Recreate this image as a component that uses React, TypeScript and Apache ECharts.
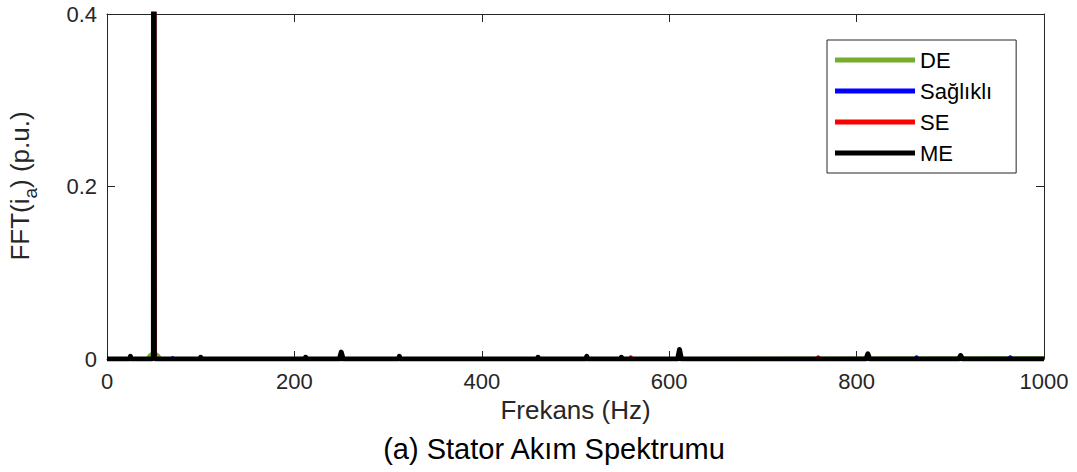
import React, { useEffect, useRef } from "react";
import * as echarts from "echarts";

const seriesNames = ["DE", "Sağlıklı", "SE", "ME"];
const seriesColors = ["#77AC30", "#0000FF", "#FF0000", "#000000"];

// [frequency (Hz), FFT magnitude (p.u.)]
const deData = [
  [0, 0], [24, 0], [25, 0.002], [26, 0], [43, 0], [45.5, 0.004], [48, 0.006], [49.6, 0.006],
  [50, 0.9], [50.4, 0.006], [52, 0.006], [54.5, 0.004], [57, 0], [99, 0], [100, 0.001],
  [101, 0], [248, 0], [250, 0.004], [252, 0], [609, 0], [611, 0.003], [613, 0], [1000, 0.001],
];
const healthyData = [
  [0, 0], [24, 0], [25, 0.001], [26, 0], [48, 0], [49.5, 0.002], [50, 0.9], [50.5, 0.002],
  [52, 0], [69, 0], [70, 0.001], [71, 0], [863, 0], [864, 0.002], [865, 0], [963, 0],
  [964, 0.002], [965, 0], [1000, 0],
];
const seData = [
  [0, 0], [48, 0], [49.5, 0.002], [50.3, 0.9], [51, 0.002], [52, 0], [210, 0], [212, 0.002],
  [214, 0], [248, 0], [250, 0.006], [252, 0], [558, 0], [559, 0.002], [560, 0], [609, 0],
  [611, 0.008], [613, 0], [758, 0], [759, 0.002], [760, 0], [1000, 0],
];
const meData = [
  [0, 0], [24, 0], [25, 0.003], [26, 0], [48, 0], [49.5, 0.002], [50, 0.9], [50.5, 0.002],
  [52, 0], [99, 0], [100, 0.002], [101, 0], [211, 0], [212, 0.002], [213, 0], [248, 0],
  [250, 0.008], [252, 0], [311, 0], [312, 0.003], [313, 0], [459, 0], [460, 0.002], [461, 0],
  [511, 0], [512, 0.003], [513, 0], [548, 0], [549, 0.002], [550, 0], [609, 0], [611, 0.011],
  [613, 0], [810, 0], [812, 0.006], [814, 0], [909, 0], [911, 0.004], [913, 0], [1000, 0],
];
const allData = [deData, healthyData, seData, meData];
const lineWidths = [4, 4, 4, 5];

const xTicks = { min: 0, max: 1000, interval: 200 };
const yTicks = { min: 0, max: 0.4, interval: 0.2 };

const yLabelParts = ["FFT(i", "a", ") (p.u.)"];
const xLabel = "Frekans (Hz)";
const titleText = "(a) Stator Akım Spektrumu";

const FONT = "'Liberation Sans', Arial, sans-serif";
const AX = "#262626";

function measure(text: string, size: number): number {
  const c = document.createElement("canvas");
  const ctx = c.getContext("2d");
  if (!ctx) return text.length * size * 0.55;
  ctx.font = `${size}px ${FONT}`;
  return ctx.measureText(text).width;
}

export default function App() {
  const ref = useRef<HTMLDivElement>(null);
  useEffect(() => {
    if (!ref.current) return;
    const chart = echarts.init(ref.current, null, { renderer: "svg" });
    const axisLine = { show: true, onZero: false, lineStyle: { color: AX, width: 1 } };
    const tick = { show: true, inside: true, length: 8, lineStyle: { color: AX, width: 1 } };

    const mainSize = 26;
    const subSize = 19;
    const w0 = measure(yLabelParts[0], mainSize);
    const w1 = measure(yLabelParts[1], subSize);
    const w2 = measure(yLabelParts[2], mainSize);
    const total = w0 + w1 + w2;
    const start = -total / 2;

    chart.setOption({
      animation: false,
      backgroundColor: "#ffffff",
      textStyle: { fontFamily: FONT },
      grid: { left: 107, right: 33, top: 14, bottom: 113, containLabel: false },
      xAxis: [
        {
          type: "value", ...xTicks, position: "bottom",
          axisLine, axisTick: tick, splitLine: { show: false },
          axisLabel: { color: AX, fontSize: 22, margin: 11, fontFamily: FONT, formatter: (v: number) => String(v) },
          name: xLabel, nameLocation: "middle", nameGap: 38,
          nameTextStyle: { color: AX, fontSize: 26, fontFamily: FONT },
        },
        {
          type: "value", ...xTicks, position: "top",
          axisLine, axisTick: tick, splitLine: { show: false }, axisLabel: { show: false },
        },
      ],
      yAxis: [
        {
          type: "value", ...yTicks, position: "left",
          axisLine, axisTick: tick, splitLine: { show: false },
          axisLabel: { color: AX, fontSize: 22, margin: 10, fontFamily: FONT },
        },
        {
          type: "value", ...yTicks, position: "right",
          axisLine, axisTick: tick, splitLine: { show: false }, axisLabel: { show: false },
        },
      ],
      legend: {
        orient: "vertical", left: 827, top: 40,
        data: seriesNames, icon: "rect", itemWidth: 80, itemHeight: 5, itemGap: 9,
        padding: [9, 24, 9, 8],
        borderColor: AX, borderWidth: 1, borderRadius: 0, backgroundColor: "#ffffff",
        textStyle: { color: "#000", fontSize: 22, fontFamily: FONT, lineHeight: 22 },
      },
      graphic: [
        {
          type: "group", x: 20, y: 186, rotation: Math.PI / 2,
          children: [
            {
              type: "text", x: start, y: 0,
              style: { text: yLabelParts[0], fontSize: mainSize, fontFamily: FONT, fill: AX, align: "left", verticalAlign: "middle" },
            },
            {
              type: "text", x: start + w0, y: 10,
              style: { text: yLabelParts[1], fontSize: subSize, fontFamily: FONT, fill: AX, align: "left", verticalAlign: "middle" },
            },
            {
              type: "text", x: start + w0 + w1, y: 0,
              style: { text: yLabelParts[2], fontSize: mainSize, fontFamily: FONT, fill: AX, align: "left", verticalAlign: "middle" },
            },
          ],
        },
        {
          type: "text", x: 554, y: 449,
          style: {
            text: titleText, fontSize: 29, fontFamily: FONT, fill: "#000",
            align: "center", verticalAlign: "middle",
          },
        },
      ],
      series: seriesNames.map((name, i) => ({
        name, type: "line", data: allData[i], xAxisIndex: 0, yAxisIndex: 0,
        showSymbol: false, symbol: "none", clip: true,
        lineStyle: { color: seriesColors[i], width: lineWidths[i], join: "round" },
        itemStyle: { color: seriesColors[i] },
      })),
    });
    return () => chart.dispose();
  }, []);
  return <div ref={ref} style={{ position: "fixed", left: 0, top: 0, width: 1077, height: 472 }} />;
}
